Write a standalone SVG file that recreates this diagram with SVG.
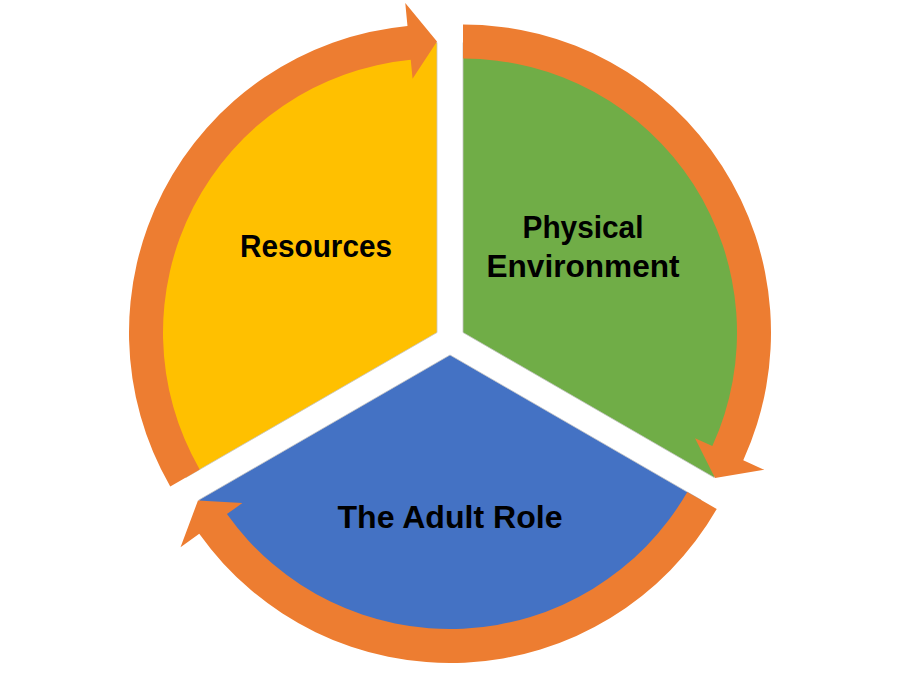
<svg xmlns="http://www.w3.org/2000/svg" width="900" height="675" viewBox="0 0 900 675">
  <style>
    .sector { stroke: #c4c4c4; stroke-width: 0.8; }
    .arrow { fill: #ED7D31; stroke: none; }
    .label { font-family: "Liberation Sans", Arial, sans-serif; font-weight: bold; font-size: 31px; fill: #000000; text-anchor: middle; }
  </style>
  <rect x="0" y="0" width="900" height="675" fill="#ffffff"/>

  <g id="node-resources">
    <path class="sector" fill="#FFC000" d="M 437 332.5 L 437 42.5 A 290 290 0 0 0 185.85 477.5 Z"/>
    <text class="label" x="316" y="257" textLength="152" lengthAdjust="spacingAndGlyphs">Resources</text>
  </g>

  <g id="node-physical-environment">
    <path class="sector" fill="#70AD47" d="M 463 332.5 L 463 42.5 A 290 290 0 0 1 714.15 477.5 Z"/>
    <text class="label" x="583" y="238" textLength="121" lengthAdjust="spacingAndGlyphs">Physical</text>
    <text class="label" x="583" y="277" textLength="193" lengthAdjust="spacingAndGlyphs">Environment</text>
  </g>

  <g id="node-adult-role">
    <path class="sector" fill="#4472C4" d="M 450 355 L 701.15 500 A 290 290 0 0 1 198.85 500 Z"/>
    <text class="label" x="450" y="528" textLength="225" lengthAdjust="spacingAndGlyphs">The Adult Role</text>
  </g>

  <g id="connectors">
    <path id="arrow-resources-to-physical" class="arrow" d="M 170.26 486.5 A 308 308 0 0 1 407.48 25.92 L 405.27 3.02 L 437 41.5 L 412.56 78.67 L 410.74 59.76 A 274 274 0 0 0 199.71 469.5 Z"/>
    <path id="arrow-physical-to-adult" class="arrow" d="M 463 24.5 A 308 308 0 0 1 743.27 460.22 L 764.2 469.76 L 715.02 478 L 695.04 438.25 L 712.33 446.12 A 274 274 0 0 0 463 58.5 Z"/>
    <path id="arrow-adult-to-resources" class="arrow" d="M 716.74 509 A 308 308 0 0 1 199.25 533.86 L 180.53 547.21 L 197.98 500.5 L 242.4 503.08 L 226.93 514.11 A 274 274 0 0 0 687.29 492 Z"/>
  </g>
</svg>
